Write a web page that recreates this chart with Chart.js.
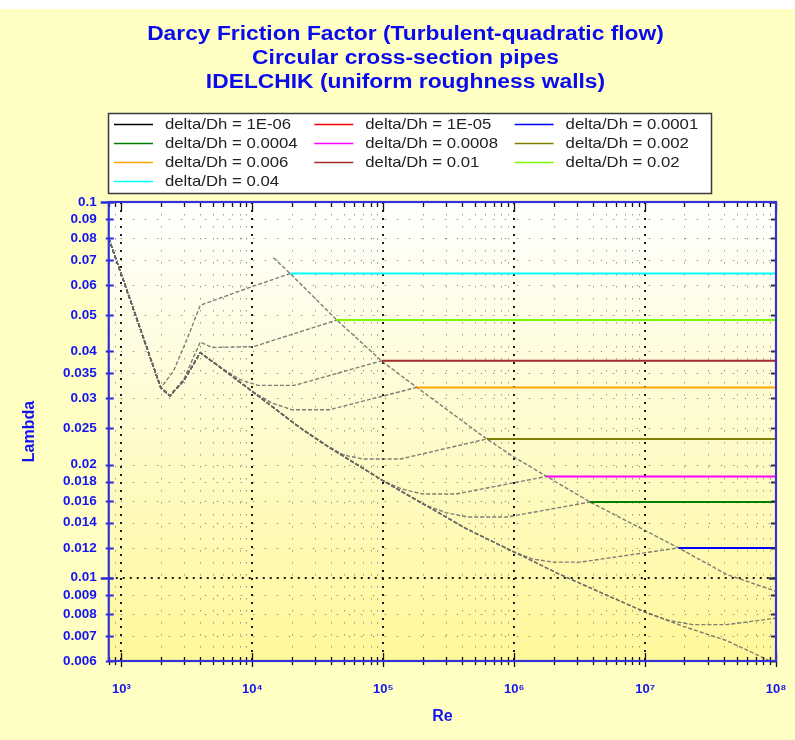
<!DOCTYPE html>
<html>
<head>
<meta charset="utf-8">
<script src="https://cdn.jsdelivr.net/npm/chart.js@4/dist/chart.umd.min.js"></script>
<style>
html,body{margin:0;padding:0;background:#ffffff;}
canvas{display:block;}
</style>
</head>
<body>
<canvas id="c" width="795" height="740"></canvas>
<script>
// ---------- text ----------
const titleLines = ['Darcy Friction Factor (Turbulent-quadratic flow)', 'Circular cross-section pipes', 'IDELCHIK (uniform roughness walls)'];
const xAxisTitle = 'Re';
const yAxisTitle = 'Lambda';
const seriesLabels = ['delta/Dh = 1E-06', 'delta/Dh = 1E-05', 'delta/Dh = 0.0001', 'delta/Dh = 0.0004', 'delta/Dh = 0.0008', 'delta/Dh = 0.002', 'delta/Dh = 0.006', 'delta/Dh = 0.01', 'delta/Dh = 0.02', 'delta/Dh = 0.04'];
const seriesColors = ['#000000', '#FF0000', '#0000FF', '#008000', '#FF00FF', '#808000', '#FFA500', '#A52A2A', '#7CFC00', '#00FFFF'];

// ---------- series (Re, lambda) ----------
const re_1e6  = [800, 2000, 2350, 3000, 4000, 6000, 10000, 23000, 38000, 100000, 430000, 1000000, 2240000, 5400000, 10000000, 20000000, 42000000, 100000000];
const lam_1e6 = [0.08, 0.032, 0.0305, 0.0335, 0.0397, 0.0358, 0.0313, 0.0251, 0.0223, 0.0181, 0.0135, 0.0117, 0.0102, 0.0089, 0.0081, 0.0074, 0.0068, 0.0059];
const re_1e5  = [800, 2000, 2350, 3000, 4000, 6000, 10000, 23000, 38000, 100000, 430000, 1000000, 2240000, 5400000, 10000000, 15000000, 23000000, 42000000, 100000000];
const lam_1e5 = [0.08, 0.032, 0.0305, 0.0335, 0.0397, 0.0358, 0.0313, 0.0251, 0.0223, 0.0181, 0.0135, 0.0117, 0.0102, 0.0089, 0.0081, 0.0077, 0.0075, 0.0075, 0.0078];
const re_1e4  = [800, 2000, 2350, 3000, 4000, 6000, 10000, 23000, 38000, 100000, 430000, 1000000, 1400000, 2000000, 3200000, 18000000, 100000000];
const lam_1e4 = [0.08, 0.032, 0.0305, 0.0335, 0.0397, 0.0358, 0.0313, 0.0251, 0.0223, 0.0181, 0.0135, 0.0117, 0.0112, 0.0110, 0.0110, 0.0120, 0.0120];
const re_4e4  = [800, 2000, 2350, 3000, 4000, 6000, 10000, 23000, 38000, 100000, 200000, 300000, 440000, 880000, 3800000, 100000000];
const lam_4e4 = [0.08, 0.032, 0.0305, 0.0335, 0.0397, 0.0358, 0.0313, 0.0251, 0.0223, 0.0181, 0.0157, 0.0149, 0.0145, 0.0145, 0.0159, 0.0159];
const re_8e4  = [800, 2000, 2350, 3000, 4000, 6000, 10000, 23000, 38000, 100000, 140000, 200000, 360000, 1770000, 100000000];
const lam_8e4 = [0.08, 0.032, 0.0305, 0.0335, 0.0397, 0.0358, 0.0313, 0.0251, 0.0223, 0.0181, 0.0172, 0.0167, 0.0167, 0.0186, 0.0186];
const re_2e3  = [800, 2000, 2350, 3000, 4000, 6000, 10000, 23000, 36000, 50000, 70000, 135000, 620000, 100000000];
const lam_2e3 = [0.08, 0.032, 0.0305, 0.0335, 0.0397, 0.0358, 0.0313, 0.0251, 0.0226, 0.0212, 0.0207, 0.0207, 0.0234, 0.0234];
const re_6e3  = [800, 2000, 2350, 3000, 4000, 6000, 10000, 14000, 20000, 39000, 180000, 100000000];
const lam_6e3 = [0.08, 0.032, 0.0305, 0.0335, 0.0397, 0.0358, 0.0313, 0.0292, 0.0280, 0.0280, 0.0321, 0.0321];
const re_1e2  = [800, 2000, 2350, 3000, 4000, 5800, 8000, 11000, 21000, 97500, 100000000];
const lam_1e2 = [0.08, 0.032, 0.0305, 0.0335, 0.0397, 0.0362, 0.0337, 0.0325, 0.0325, 0.0378, 0.0378];
const re_2e2  = [800, 2000, 2350, 3000, 4000, 4900, 10200, 44200, 100000000];
const lam_2e2 = [0.08, 0.032, 0.0305, 0.0338, 0.0424, 0.0410, 0.0412, 0.0485, 0.0485];
const re_4e2  = [800, 2000, 2500, 3200, 4000, 9900, 19450, 100000000];
const lam_4e2 = [0.08, 0.032, 0.0355, 0.0435, 0.0531, 0.0595, 0.0645, 0.0645];

// Re where each curve enters the quadratic (fully rough) zone: solid coloured from there on
const quadStartRe = [null, null, 18000000, 3800000, 1770000, 620000, 180000, 97500, 44200, 19450];

// boundary of the quadratic zone (grey dashed, no legend entry)
const re_limit  = [14500, 19450, 44200, 97500, 180400, 616600, 985000, 1770000, 3800000, 10000000, 18000000, 42000000, 100000000];
const lam_limit = [0.0710, 0.0645, 0.0485, 0.0377, 0.0321, 0.0234, 0.0210, 0.0186, 0.0159, 0.01335, 0.0120, 0.0102, 0.0092];

// ---------- ticks ----------
const yTickValues = [0.006, 0.007, 0.008, 0.009, 0.01, 0.012, 0.014, 0.016, 0.018, 0.02, 0.025, 0.03, 0.035, 0.04, 0.05, 0.06, 0.07, 0.08, 0.09, 0.1];
const yTickLabels = ['0.006', '0.007', '0.008', '0.009', '0.01', '0.012', '0.014', '0.016', '0.018', '0.02', '0.025', '0.03', '0.035', '0.04', '0.05', '0.06', '0.07', '0.08', '0.09', '0.1'];
const yMajorTicks = [0.01, 0.1];
const xDecades = [1000, 10000, 100000, 1000000, 10000000, 100000000];
const xDecadeLabels = ['10\u00B3', '10\u2074', '10\u2075', '10\u2076', '10\u2077', '10\u2078'];
const xMinorMultipliers = [2, 3, 4, 5, 6, 7, 8, 9];
const xLeadingMinor = [800, 900];

const xTickValues = [...xLeadingMinor];
xDecades.forEach((d, i) => {
  xTickValues.push(d);
  if (i < xDecades.length - 1) xMinorMultipliers.forEach(m => xTickValues.push(d * m));
});

const seriesRe  = [re_1e6, re_1e5, re_1e4, re_4e4, re_8e4, re_2e3, re_6e3, re_1e2, re_2e2, re_4e2];
const seriesLam = [lam_1e6, lam_1e5, lam_1e4, lam_4e4, lam_8e4, lam_2e3, lam_6e3, lam_1e2, lam_2e2, lam_4e2];

// ---------- styles ----------
const FONT = "'Liberation Sans', Arial, sans-serif";
const BLUE_TEXT = '#1414F0';
const GREY = 'rgba(105,105,105,0.85)';
const PLOT = {left: 108.75, right: 776, top: 202, bottom: 661};

function isQuad(q, x) { return q !== null && x >= q * 0.999; }

const datasets = seriesLabels.map((label, i) => {
  const q = quadStartRe[i];
  return {
    label: label,
    data: seriesRe[i].map((x, k) => ({x: x, y: seriesLam[i][k]})),
    borderColor: seriesColors[i],
    backgroundColor: seriesColors[i],
    borderWidth: 1.4,
    pointRadius: 0,
    tension: 0,
    fill: false,
    segment: {
      borderColor: c => isQuad(q, c.p0.parsed.x) ? seriesColors[i] : GREY,
      borderDash: c => isQuad(q, c.p0.parsed.x) ? [] : [4, 2],
      borderWidth: c => isQuad(q, c.p0.parsed.x) ? 2 : 1.4
    }
  };
});
datasets.push({
  label: '',
  data: re_limit.map((x, k) => ({x: x, y: lam_limit[k]})),
  borderColor: GREY, borderDash: [4, 2], borderWidth: 1.4,
  pointRadius: 0, tension: 0, fill: false
});

// ---------- plugins ----------
const backgroundPlugin = {
  id: 'bg',
  beforeDraw(chart) {
    const {ctx, chartArea: a} = chart;
    ctx.save();
    ctx.fillStyle = '#FFFFC4';
    ctx.fillRect(0, 0, chart.width, chart.height);
    ctx.fillStyle = '#FFFFFF';
    ctx.fillRect(0, 0, chart.width, 9);
    const g = ctx.createLinearGradient(0, a.top, 0, a.bottom);
    g.addColorStop(0, '#FFFFFF');
    g.addColorStop(1, '#FFF89A');
    ctx.fillStyle = g;
    ctx.fillRect(a.left, a.top, a.right - a.left, a.bottom - a.top);
    ctx.restore();
  }
};

const gridPlugin = {
  id: 'dotgrid',
  beforeDatasetsDraw(chart) {
    const {ctx, chartArea: a, scales} = chart;
    const xs = scales.x, ys = scales.y;
    ctx.save();
    ctx.beginPath();
    ctx.rect(a.left, a.top, a.right - a.left, a.bottom - a.top);
    ctx.clip();
    xTickValues.forEach(v => {
      if (xDecades.includes(v)) return;
      const px = Math.round(xs.getPixelForValue(v)) + 0.5;
      ctx.strokeStyle = 'rgba(70,70,70,0.55)'; ctx.lineWidth = 1; ctx.setLineDash([1.5, 10.5]);
      ctx.beginPath(); ctx.moveTo(px, a.top); ctx.lineTo(px, a.bottom); ctx.stroke();
    });
    yTickValues.forEach(v => {
      if (yMajorTicks.includes(v)) return;
      const py = Math.round(ys.getPixelForValue(v)) + 0.5;
      ctx.strokeStyle = 'rgba(70,70,70,0.55)'; ctx.lineWidth = 1; ctx.setLineDash([1.5, 10.5]);
      ctx.beginPath(); ctx.moveTo(a.left, py); ctx.lineTo(a.right, py); ctx.stroke();
    });
    xDecades.forEach(v => {
      const px = Math.round(xs.getPixelForValue(v));
      ctx.strokeStyle = '#1a1a1a'; ctx.lineWidth = 2; ctx.setLineDash([2, 6]);
      ctx.beginPath(); ctx.moveTo(px, a.top); ctx.lineTo(px, a.bottom); ctx.stroke();
    });
    yMajorTicks.forEach(v => {
      const py = Math.round(ys.getPixelForValue(v));
      ctx.strokeStyle = '#1a1a1a'; ctx.lineWidth = 2; ctx.setLineDash([2, 5]);
      ctx.beginPath(); ctx.moveTo(a.left, py); ctx.lineTo(a.right, py); ctx.stroke();
    });
    ctx.restore();
  }
};

const framePlugin = {
  id: 'frame',
  afterDatasetsDraw(chart) {
    const {ctx, chartArea: a, scales} = chart;
    const xs = scales.x, ys = scales.y;
    ctx.save();
    ctx.setLineDash([]);
    ctx.strokeStyle = '#101010'; ctx.lineWidth = 1.3;
    xTickValues.forEach(v => {
      const px = Math.round(xs.getPixelForValue(v)) + 0.5;
      const major = xDecades.includes(v);
      ctx.beginPath();
      ctx.moveTo(px, a.bottom - (major ? 8 : 4)); ctx.lineTo(px, a.bottom + (major ? 6 : 4));
      ctx.moveTo(px, a.top); ctx.lineTo(px, a.top + (major ? 9 : 5));
      ctx.stroke();
    });
    yTickValues.forEach(v => {
      const py = Math.round(ys.getPixelForValue(v)) + 0.5;
      const major = yMajorTicks.includes(v);
      ctx.strokeStyle = '#2828E0'; ctx.lineWidth = major ? 2.5 : 2;
      ctx.beginPath(); ctx.moveTo(a.left - (major ? 8 : 3), py); ctx.lineTo(a.left + 5, py); ctx.stroke();
      ctx.strokeStyle = '#303050'; ctx.lineWidth = major ? 2.5 : 2;
      ctx.beginPath(); ctx.moveTo(a.right - (major ? 7 : 5), py); ctx.lineTo(a.right, py); ctx.stroke();
    });
    ctx.strokeStyle = '#3232D8'; ctx.lineWidth = 2.2;
    ctx.strokeRect(a.left, a.top, a.right - a.left, a.bottom - a.top);
    ctx.restore();
  }
};

// title: Arial-like bold, slightly widened as in the reference
const titlePlugin = {
  id: 'wideTitle',
  afterDraw(chart) {
    const ctx = chart.ctx;
    ctx.save();
    ctx.font = 'bold 19.5px ' + FONT;
    ctx.fillStyle = '#0A0AEE';
    ctx.textAlign = 'center';
    ctx.textBaseline = 'middle';
    titleLines.forEach((t, i) => {
      ctx.save();
      ctx.translate(405.5, 35 + i * 24);
      ctx.scale(1.17, 1);
      ctx.fillText(t, 0, 0);
      ctx.restore();
    });
    ctx.restore();
  }
};

const boxLegendPlugin = {
  id: 'boxLegend',
  afterDraw(chart) {
    const ctx = chart.ctx;
    ctx.save();
    ctx.fillStyle = '#FFFFFF';
    ctx.fillRect(108.5, 113.5, 603, 80);
    ctx.strokeStyle = '#3a3a3a'; ctx.lineWidth = 1.5; ctx.setLineDash([]);
    ctx.strokeRect(108.5, 113.5, 603, 80);
    chart.data.datasets.slice(0, seriesLabels.length).forEach((ds, i) => {
      const col = i % 3, row = Math.floor(i / 3);
      const x0 = 114 + col * 200.3, yc = 124.5 + row * 19;
      ctx.strokeStyle = ds.borderColor; ctx.lineWidth = 1.6;
      ctx.beginPath(); ctx.moveTo(x0, yc); ctx.lineTo(x0 + 39, yc); ctx.stroke();
      ctx.save();
      ctx.fillStyle = '#222222';
      ctx.font = '14.2px ' + FONT;
      ctx.textBaseline = 'middle'; ctx.textAlign = 'left';
      ctx.translate(x0 + 51, yc + 0.5);
      ctx.scale(1.18, 1);
      ctx.fillText(ds.label, 0, 0);
      ctx.restore();
    });
    ctx.restore();
  }
};

new Chart(document.getElementById('c'), {
  type: 'line',
  data: {datasets: datasets},
  plugins: [backgroundPlugin, gridPlugin, framePlugin, titlePlugin, boxLegendPlugin],
  options: {
    responsive: false,
    animation: false,
    devicePixelRatio: 1,
    layout: {padding: {left: 34, right: 19, top: PLOT.top, bottom: 0}},
    plugins: {
      legend: {display: false},
      tooltip: {enabled: false},
      title: {display: false}
    },
    scales: {
      x: {
        type: 'logarithmic',
        position: 'bottom',
        min: 800, max: 100000000,
        afterBuildTicks: s => { s.ticks = xTickValues.map(v => ({value: v})); },
        afterFit: s => { s.height = 740 - PLOT.bottom; s.paddingLeft = 0; s.paddingRight = 0; },
        grid: {display: false, drawTicks: false},
        border: {display: false},
        ticks: {
          autoSkip: false, maxRotation: 0, minRotation: 0, padding: 21,
          color: BLUE_TEXT, font: {family: FONT, size: 13, weight: 'bold'},
          callback: (v, i) => { const k = xDecades.indexOf(xTickValues[i]); return k >= 0 ? xDecadeLabels[k] : ''; }
        },
        title: {display: true, text: xAxisTitle, color: BLUE_TEXT, font: {family: FONT, size: 16, weight: 'bold'}, padding: {top: 0, bottom: 14}}
      },
      y: {
        type: 'logarithmic',
        position: 'left',
        min: 0.006, max: 0.1,
        afterBuildTicks: s => { s.ticks = yTickValues.map(v => ({value: v})); },
        afterFit: s => { s.width = PLOT.left - 34; s.paddingTop = 0; s.paddingBottom = 0; },
        grid: {display: false, drawTicks: false},
        border: {display: false},
        ticks: {
          autoSkip: false, padding: 12,
          color: BLUE_TEXT, font: {family: FONT, size: 13.5, weight: 'bold'},
          callback: (v, i) => yTickLabels[i]
        },
        title: {display: true, text: yAxisTitle, color: BLUE_TEXT, font: {family: FONT, size: 16, weight: 'bold'}, padding: {top: -14, bottom: 0}}
      }
    }
  }
});
</script>
</body>
</html>
